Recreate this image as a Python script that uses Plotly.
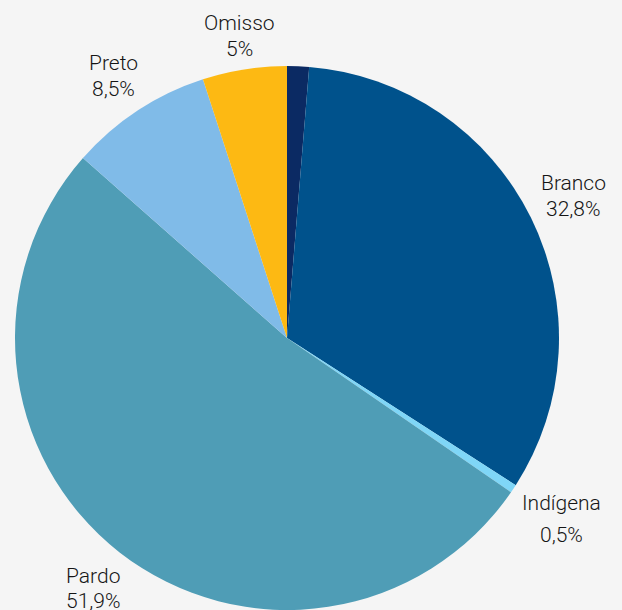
import plotly.graph_objects as go

labels = ["Amarelo", "Branco", "Indígena", "Pardo", "Preto", "Omisso"]
values = [1.3, 32.8, 0.5, 51.9, 8.5, 5.0]
value_text = ["1,3%", "32,8%", "0,5%", "51,9%", "8,5%", "5%"]
colors = ["#0b2a63", "#00528c", "#7fd6f7", "#4f9db6", "#80bbe8", "#fdb913"]
show_label = [False, True, True, True, True, True]
# (x, y of name line, y of value line) in pixels
label_xy = [None, (573, 183, 209), (561, 503, 535), (93, 576, 601), (113, 63, 89), (240, 23, 49)]

W, H = 622, 610

fig = go.Figure(go.Pie(
    labels=labels, values=values, sort=False, direction="clockwise", rotation=0,
    marker=dict(colors=colors, line=dict(width=0)),
    textinfo="none", hoverinfo="label+percent", showlegend=False,
    domain=dict(x=[15 / W, 559 / W], y=[0, (H - 66) / H]),
))

font = dict(family="Roboto", size=21, color="#151515", weight=300)
for lab, txt, show, xy in zip(labels, value_text, show_label, label_xy):
    if not show:
        continue
    for t, yy in ((lab, xy[1]), (txt, xy[2])):
        fig.add_annotation(
            x=xy[0] / W, y=1 - yy / H, xref="paper", yref="paper",
            text=t, showarrow=False, align="center",
            xanchor="center", yanchor="middle", font=font,
        )

fig.update_layout(
    width=W, height=H, margin=dict(l=0, r=0, t=0, b=0),
    paper_bgcolor="#f5f5f5", plot_bgcolor="#f5f5f5",
)
fig.write_html("out.html", config={"displayModeBar": False},
               post_script="document.body.style.margin='0';document.body.style.background='#f5f5f5';")
